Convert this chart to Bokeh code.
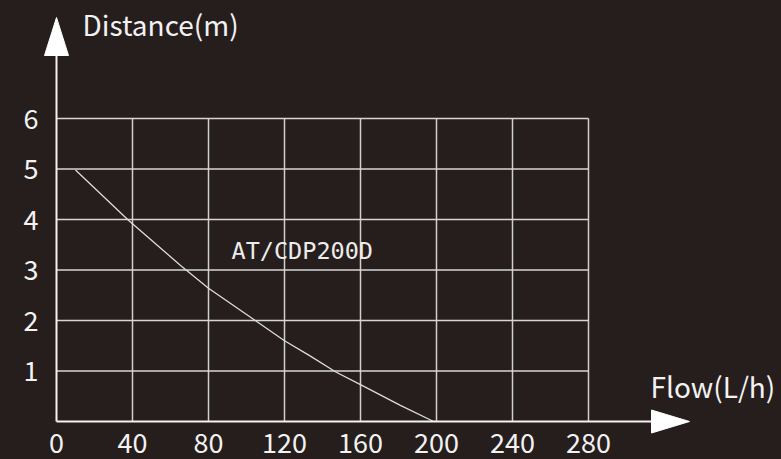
from bokeh.plotting import figure
from bokeh.models import Label, FixedTicker, Range1d
from bokeh.embed import file_html
from bokeh.resources import INLINE

# ---- data ----
flow = [10, 38, 65.3, 80, 105, 120, 133, 147, 160, 181, 198.5]
distance = [4.98, 3.98, 3.09, 2.64, 1.99, 1.6, 1.31, 0.98, 0.73, 0.32, 0]
x_ticks = [0, 40, 80, 120, 160, 200, 240, 280]
y_ticks = [1, 2, 3, 4, 5, 6]
x_title = "Flow(L/h)"
y_title = "Distance(m)"
model_name = "AT/CDP200D"

# ---- layout / style ----
BG = "#261e1d"
W, H = 781, 459
ox, oy = 56, 421            # data origin in canvas pixels
sx = 532 / x_ticks[-1]      # pixels per flow unit
sy = 303 / y_ticks[-1]      # pixels per distance unit
FONT = "Noto Sans CJK SC"

p = figure(width=W, height=H,
           x_range=Range1d(-ox / sx, (W - ox) / sx),
           y_range=Range1d(-(H - oy) / sy, oy / sy),
           min_border=0, background_fill_color=BG, border_fill_color=BG,
           outline_line_color=None, output_backend="svg", toolbar_location=None)
p.xgrid.visible = False
p.ygrid.visible = False

x_end = 595 / sx
y_end = 366 / sy

for ax, ticks, end in ((p.xaxis, x_ticks, x_end), (p.yaxis, y_ticks, y_end)):
    ax.fixed_location = 0
    ax.ticker = FixedTicker(ticks=ticks)
    ax.bounds = (0, end)
    ax.axis_line_color = "#f2f2f2"
    ax.axis_line_width = 2
    ax.major_tick_line_color = None
    ax.minor_tick_line_color = None
    ax.major_label_text_font = FONT
    ax.major_label_text_font_size = "27px"
    ax.major_label_text_color = "#f2f2f2"
p.xaxis.major_label_standoff = 5
p.yaxis.major_label_standoff = 12

# grid
xs = x_ticks[1:]
p.segment(x0=xs, y0=[0] * len(xs), x1=xs, y1=[y_ticks[-1]] * len(xs),
          line_color="#cfcfcf", line_width=1.5)
p.segment(x0=[0] * len(y_ticks), y0=y_ticks, x1=[x_ticks[-1]] * len(y_ticks), y1=y_ticks,
          line_color="#d6d6d6", line_width=1.5)

# curve
p.line(flow, distance, line_color="#dcdcdc", line_width=1.3)

# arrow heads
hw_x, hl_x = 12 / sx, 38 / sy
p.patch([-hw_x, hw_x, 0], [y_end, y_end, y_end + hl_x], fill_color="white", line_color="white")
hw_y, hl_y = 11.5 / sy, 38 / sx
p.patch([x_end, x_end, x_end + hl_y], [-hw_y, hw_y, 0], fill_color="white", line_color="white")

# titles
p.add_layout(Label(x=26 / sx, y=398 / sy, text=y_title, text_font=FONT,
                   text_font_size="28px", text_color="#f2f2f2", text_baseline="alphabetic"))
p.add_layout(Label(x=594 / sx, y=36 / sy, text=x_title, text_font=FONT,
                   text_font_size="28px", text_color="#f2f2f2", text_baseline="alphabetic"))
p.add_layout(Label(x=175 / sx, y=171 / sy, text=model_name, text_font="DejaVu Sans Mono",
                   text_font_size="23.5px", text_color="#ececec", text_baseline="alphabetic"))

template = """{% block preamble %}<style>html, body { background-color: #261e1d; overflow: hidden; }</style>{% endblock %}"""

open("out.html", "w").write(file_html(p, INLINE, template=template))
